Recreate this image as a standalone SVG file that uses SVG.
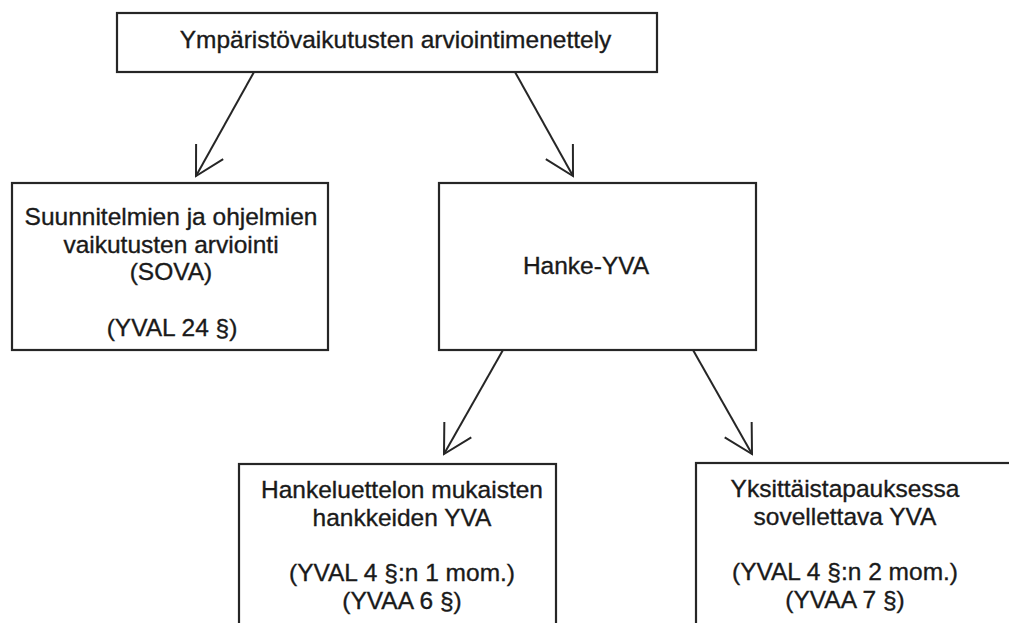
<svg xmlns="http://www.w3.org/2000/svg" width="1009" height="623" viewBox="0 0 1009 623">
<style>
.box{fill:#ffffff;stroke:#262626;stroke-width:2.2}
.t{font-family:"Liberation Sans",Arial,sans-serif;font-size:24.5px;fill:#1a1a1a;stroke:#1a1a1a;stroke-width:0.35;text-anchor:middle}
.edge{stroke:#262626;stroke-width:2;fill:none}
</style>
<defs>
<marker id="v" markerUnits="userSpaceOnUse" viewBox="-36 -20 40 40" markerWidth="40" markerHeight="40" refX="0" refY="0" orient="auto" overflow="visible">
<path d="M -28 -15.5 L 0 0 L -28 15.5" fill="none" stroke="#262626" stroke-width="2"/>
</marker>
</defs>
<rect width="1009" height="623" fill="#ffffff"/>
<g id="connectors">
<line class="edge" x1="254" y1="72" x2="196" y2="176" marker-end="url(#v)"/>
<line class="edge" x1="515" y1="72" x2="573" y2="176" marker-end="url(#v)"/>
<line class="edge" x1="503" y1="350" x2="444" y2="454" marker-end="url(#v)"/>
<line class="edge" x1="693" y1="350" x2="752" y2="454" marker-end="url(#v)"/>
</g>
<g id="node-top">
<rect class="box" x="117" y="13" width="540" height="59"/>
<text class="t" x="395.5" y="48">Ympäristövaikutusten arviointimenettely</text>
</g>
<g id="node-sova">
<rect class="box" x="12" y="183" width="316" height="167"/>
<text class="t" x="171" y="225">Suunnitelmien ja ohjelmien</text>
<text class="t" x="171" y="252.5">vaikutusten arviointi</text>
<text class="t" x="171" y="280">(SOVA)</text>
<text class="t" x="172" y="336">(YVAL 24 §)</text>
</g>
<g id="node-hanke">
<rect class="box" x="439" y="183" width="317" height="167"/>
<text class="t" x="586" y="274">Hanke-YVA</text>
</g>
<g id="node-hankeluettelo">
<rect class="box" x="239" y="464" width="317" height="200"/>
<text class="t" x="402" y="498">Hankeluettelon mukaisten</text>
<text class="t" x="402" y="525.5">hankkeiden YVA</text>
<text class="t" x="402" y="581">(YVAL 4 §:n 1 mom.)</text>
<text class="t" x="402" y="608.5">(YVAA 6 §)</text>
</g>
<g id="node-yksittais">
<rect class="box" x="696" y="463" width="340" height="200"/>
<text class="t" x="845" y="497">Yksittäistapauksessa</text>
<text class="t" x="845" y="524.5">sovellettava YVA</text>
<text class="t" x="845" y="580">(YVAL 4 §:n 2 mom.)</text>
<text class="t" x="845" y="607.5">(YVAA 7 §)</text>
</g>
</svg>
